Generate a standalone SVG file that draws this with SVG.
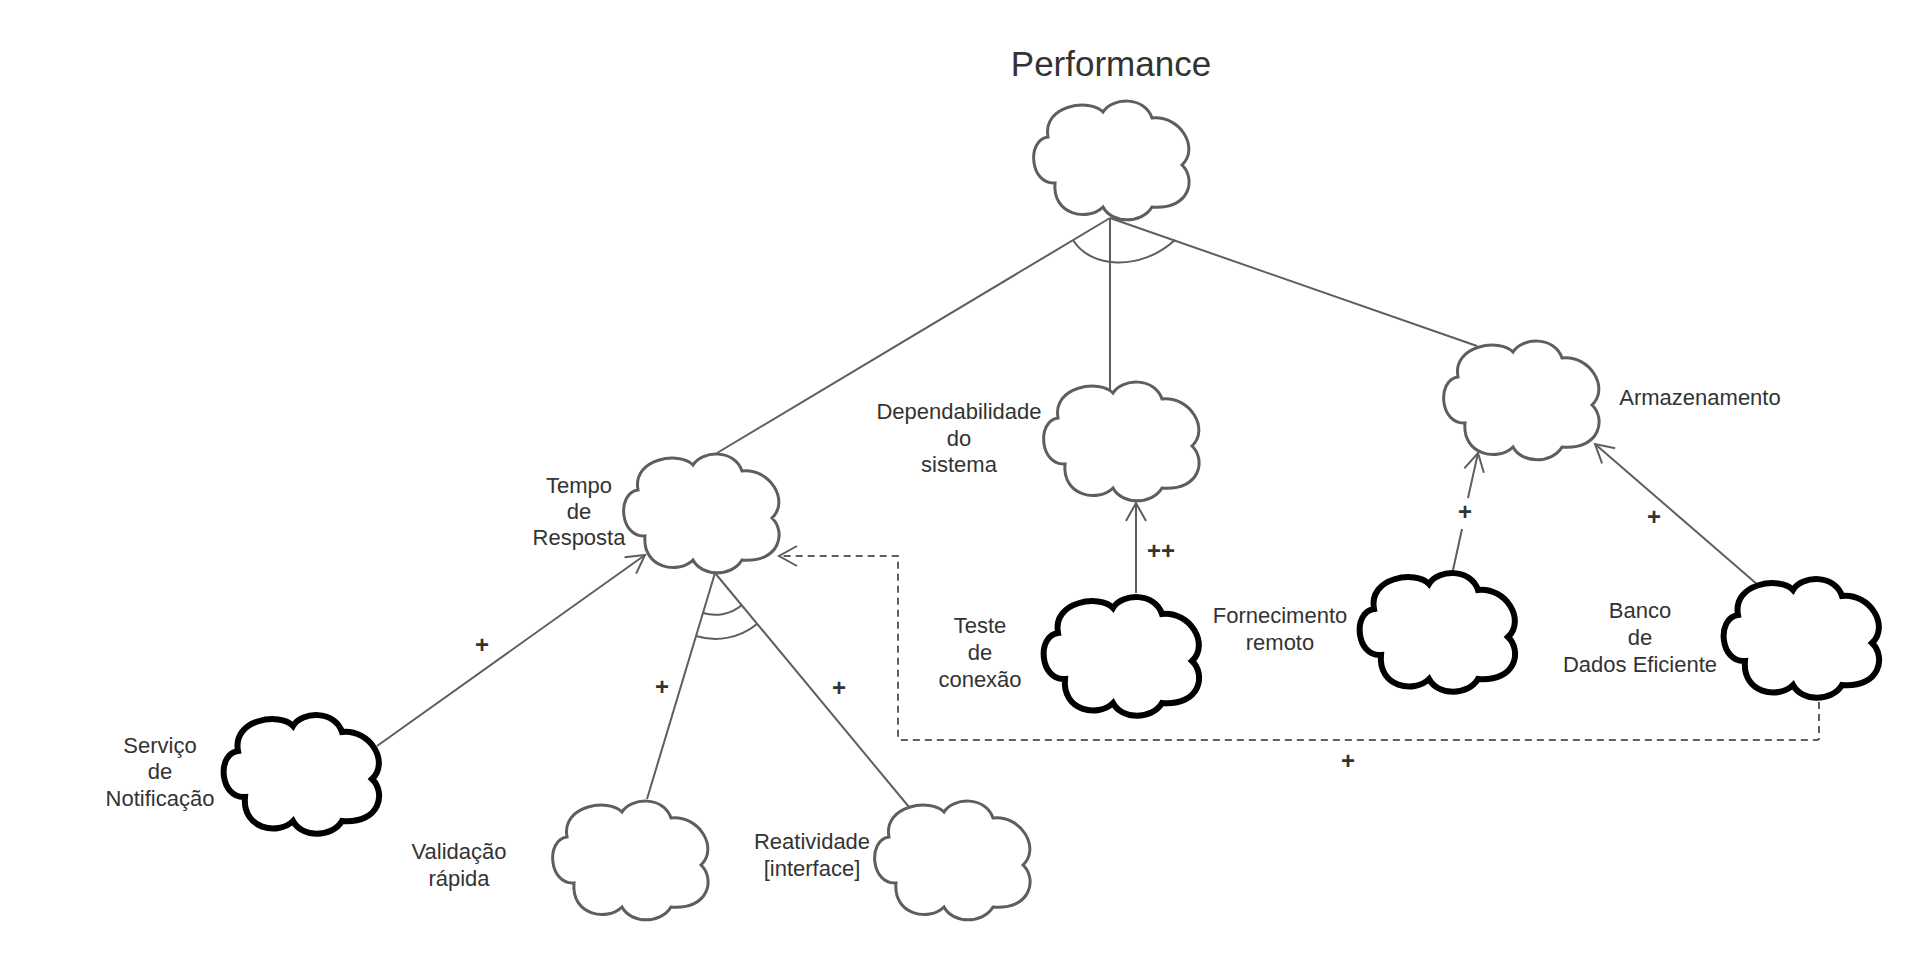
<svg xmlns="http://www.w3.org/2000/svg" xmlns:xlink="http://www.w3.org/1999/xlink" width="1928" height="968" viewBox="0 0 1928 968">
<style>
.soft{fill:#fff;stroke:#5e5e5e;stroke-width:3}
.op{fill:#fff;stroke:#000;stroke-width:6}
.lbl{font-family:"Liberation Sans",Arial,sans-serif;font-size:22px;fill:#333;text-anchor:middle}
.title{font-family:"Liberation Sans",Arial,sans-serif;font-size:35px;fill:#333;text-anchor:middle}
.plus{font-family:"Liberation Sans",Arial,sans-serif;font-size:24px;font-weight:bold;fill:#333;text-anchor:middle}
.ln{fill:none;stroke:#5e5e5e;stroke-width:2}
.arr{marker-end:url(#open)}
.dash{stroke-dasharray:7 5}
</style>
<defs>
<path id="cloud" d="M18 37 C12 5 60 -2 73 12 C82 -3 115 -4 122 18 C150 15 170 48 152 65 C166 78 161 110 122 107 C112 124 82 124 73 107 C58 122 22 115 25 83 C0 85 -4 40 18 37 Z"/>
<marker id="open" markerUnits="userSpaceOnUse" markerWidth="24" markerHeight="24" viewBox="0 0 24 24" refX="21" refY="12" orient="auto">
<path d="M3 2 L21 12 L3 22" fill="none" stroke="#5e5e5e" stroke-width="2"/>
</marker>
</defs>
<rect width="1928" height="968" fill="#fff"/>
<g id="connectors">
<path class="ln" d="M1110 218 L717 453"/>
<path class="ln" d="M1110 218 L1110 392"/>
<path class="ln" d="M1110 218 L1477 346"/>
<path class="ln" d="M1073 240 C1090 268 1140 272 1175 240"/>
<path class="ln arr" d="M377 746 L645 555"/>
<path class="ln" d="M715 573 L647 799"/>
<path class="ln" d="M715 573 L909 807"/>
<path class="ln" d="M703 613 A42 42 0 0 0 742 605"/>
<path class="ln" d="M696 636 A66 66 0 0 0 757 624"/>
<path class="ln arr" d="M1136 593 L1136 503"/>
<path class="ln" d="M1453 570 L1462 529"/>
<path class="ln arr" d="M1468 498 L1478 453"/>
<path class="ln arr" d="M1758 585 L1595 444"/>
<path class="ln dash arr" d="M1819 702 L1819 738 Q1819 740 1817 740 L900 740 Q898 740 898 738 L898 556 L779 556"/>
<text class="plus" x="482" y="653">+</text>
<text class="plus" x="662" y="695">+</text>
<text class="plus" x="839" y="696">+</text>
<text class="plus" x="1161" y="559">++</text>
<text class="plus" x="1465" y="520">+</text>
<text class="plus" x="1654" y="525">+</text>
<text class="plus" x="1348" y="769">+</text>
</g>
<g id="performance">
<text class="title" x="1111" y="76">Performance</text>
<use xlink:href="#cloud" x="1030" y="100" class="soft"/>
</g>
<g id="tempo-resposta">
<use xlink:href="#cloud" x="620" y="453" class="soft"/>
<text class="lbl" x="579" y="493">Tempo</text>
<text class="lbl" x="579" y="519">de</text>
<text class="lbl" x="579" y="545">Resposta</text>
</g>
<g id="dependabilidade">
<use xlink:href="#cloud" x="1040" y="381" class="soft"/>
<text class="lbl" x="959" y="419">Dependabilidade</text>
<text class="lbl" x="959" y="446">do</text>
<text class="lbl" x="959" y="472">sistema</text>
</g>
<g id="armazenamento">
<use xlink:href="#cloud" x="1440" y="340" class="soft"/>
<text class="lbl" x="1700" y="405">Armazenamento</text>
</g>
<g id="teste-conexao">
<use xlink:href="#cloud" x="1040" y="596" class="op"/>
<text class="lbl" x="980" y="633">Teste</text>
<text class="lbl" x="980" y="660">de</text>
<text class="lbl" x="980" y="687">conexão</text>
</g>
<g id="fornecimento-remoto">
<use xlink:href="#cloud" x="1356" y="572" class="op"/>
<text class="lbl" x="1280" y="623">Fornecimento</text>
<text class="lbl" x="1280" y="650">remoto</text>
</g>
<g id="banco-dados">
<use xlink:href="#cloud" x="1720" y="578" class="op"/>
<text class="lbl" x="1640" y="618">Banco</text>
<text class="lbl" x="1640" y="645">de</text>
<text class="lbl" x="1640" y="672">Dados Eficiente</text>
</g>
<g id="servico-notificacao">
<use xlink:href="#cloud" x="220" y="714" class="op"/>
<text class="lbl" x="160" y="753">Serviço</text>
<text class="lbl" x="160" y="779">de</text>
<text class="lbl" x="160" y="806">Notificação</text>
</g>
<g id="validacao-rapida">
<use xlink:href="#cloud" x="549" y="800" class="soft"/>
<text class="lbl" x="459" y="859">Validação</text>
<text class="lbl" x="459" y="886">rápida</text>
</g>
<g id="reatividade">
<use xlink:href="#cloud" x="871" y="800" class="soft"/>
<text class="lbl" x="812" y="849">Reatividade</text>
<text class="lbl" x="812" y="876">[interface]</text>
</g>
</svg>
